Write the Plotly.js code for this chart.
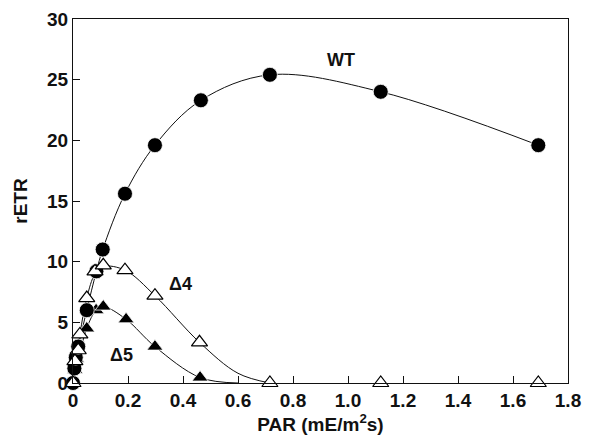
<!DOCTYPE html>
<html><head><meta charset="utf-8">
<script src="https://cdn.plot.ly/plotly-3.0.1.min.js"></script>
<style>html,body{margin:0;padding:0;background:#fff}#c{width:610px;height:443px}</style>
</head><body><div id="c"></div>
<script>
// Data
const wtX = [0, 0.005, 0.01, 0.019, 0.05, 0.085, 0.108, 0.189, 0.298, 0.465, 0.716, 1.119, 1.692];
const wtY = [0, 1.2, 2.1, 3.0, 6.0, 9.2, 11.0, 15.6, 19.6, 23.3, 25.4, 24.0, 19.6];
const d4X = [0, 0.007, 0.019, 0.025, 0.05, 0.08, 0.11, 0.189, 0.298, 0.46, 0.716, 1.119, 1.692];
const d4Y = [0, 1.8, 2.7, 4.0, 7.0, 9.2, 9.7, 9.3, 7.2, 3.35, 0, 0, 0];
const d5X = [0, 0.007, 0.012, 0.05, 0.084, 0.11, 0.193, 0.298, 0.462];
const d5Y = [0, 1.1, 2.0, 4.5, 6.0, 6.3, 5.25, 3.0, 0.45];
// fitted curves (points along drawn lines)
const d4FitX = [0, 0.025, 0.05, 0.08, 0.11, 0.189, 0.298, 0.46, 0.6, 0.716];
const d4FitY = [0, 4.0, 7.0, 9.0, 9.6, 9.3, 7.2, 3.35, 0.8, 0];
const d5FitX = [0, 0.05, 0.084, 0.11, 0.193, 0.298, 0.462, 0.6];
const d5FitY = [0, 4.5, 6.0, 6.3, 5.25, 3.0, 0.45, 0];
const xTicks = [0, 0.2, 0.4, 0.6, 0.8, 1.0, 1.2, 1.4, 1.6, 1.8];
const xTickText = ["0", "0.2", "0.4", "0.6", "0.8", "1.0", "1.2", "1.4", "1.6", "1.8"];
const yTicks = [0, 5, 10, 15, 20, 25, 30];
const labels = [
  {x: 0.975, y: 26.6, text: "WT"},
  {x: 0.39, y: 8.2, text: "Δ4"},
  {x: 0.175, y: 2.3, text: "Δ5"}
];

const fam = "Liberation Sans, Arial, sans-serif";
const bold = (s) => ({family: fam, size: s, color: "#111", weight: "bold"});
const line = {color: "#111", width: 1, shape: "spline", smoothing: 1.0};
const traces = [
  {x: wtX, y: wtY, mode: "lines", line: line},
  {x: d4FitX, y: d4FitY, mode: "lines", line: line},
  {x: d5FitX, y: d5FitY, mode: "lines", line: line},
  {x: d5X, y: d5Y, mode: "markers", cliponaxis: false,
   marker: {symbol: "triangle-up", size: 14, color: "#000", line: {color: "#fff", width: 0.8}}},
  {x: wtX, y: wtY, mode: "markers", cliponaxis: false,
   marker: {symbol: "circle", size: 15, color: "#000", line: {color: "#fff", width: 0.8}}},
  {x: d4X, y: d4Y, mode: "markers", cliponaxis: false,
   marker: {symbol: "triangle-up", size: 14, color: "#fff", line: {color: "#000", width: 1.2}}}
];
const layout = {
  width: 610, height: 443,
  margin: {l: 73, r: 42, t: 19, b: 60},
  paper_bgcolor: "#fff", plot_bgcolor: "#fff",
  showlegend: false,
  font: bold(18),
  xaxis: {range: [0, 1.8], tickvals: xTicks, ticktext: xTickText, ticks: "inside", ticklen: 7,
    tickcolor: "#111", showline: true, mirror: true, linecolor: "#111", linewidth: 1,
    showgrid: false, zeroline: false, tickfont: bold(19),
    title: {text: "PAR (mE/m<sup>2</sup>s)", font: bold(19), standoff: 6}},
  yaxis: {range: [0, 30], tickvals: yTicks, ticks: "inside", ticklen: 7,
    tickcolor: "#111", showline: true, mirror: true, linecolor: "#111", linewidth: 1,
    showgrid: false, zeroline: false, tickfont: bold(19),
    title: {text: "rETR", font: bold(19), standoff: 14}},
  annotations: labels.map(l => ({x: l.x, y: l.y, xref: "x", yref: "y", text: l.text, showarrow: false,
    font: bold(18)}))
};
Plotly.newPlot("c", traces, layout, {displayModeBar: false, staticPlot: true});
</script></body></html>
